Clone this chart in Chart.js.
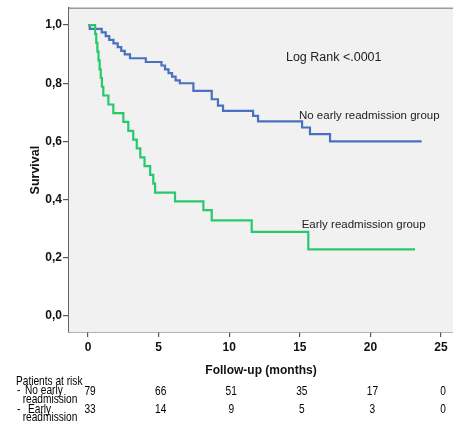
<!DOCTYPE html>
<html>
<head>
<meta charset="utf-8">
<script src="https://cdn.jsdelivr.net/npm/chart.js@4.4.1/dist/chart.umd.min.js"></script>
<style>
  html, body { margin: 0; padding: 0; background: #ffffff; }
  #wrap { position: relative; width: 453px; height: 422px; }
  canvas { display: block; }
</style>
</head>
<body>
<div id="wrap"><canvas id="c" width="453" height="422"></canvas></div>
<script>
// ---- data ----
const noEarlyTimes = [0, 0.12, 0.97, 1.25, 1.5, 1.8, 2.1, 2.35, 2.6, 2.97, 4.09, 5.2, 5.45, 5.7, 5.95, 6.2, 6.5, 7.46, 8.76, 9.2, 9.56, 11.69, 12.04, 15.16, 15.72, 17.14, 23.63];
const noEarlySurv  = [1.0, 0.987, 0.975, 0.962, 0.949, 0.937, 0.924, 0.911, 0.899, 0.886, 0.873, 0.861, 0.848, 0.835, 0.823, 0.81, 0.80, 0.774, 0.745, 0.723, 0.705, 0.688, 0.669, 0.648, 0.625, 0.60, 0.60];
const earlyTimes = [0, 0.5, 0.58, 0.66, 0.74, 0.82, 0.9, 0.98, 1.08, 1.44, 1.79, 2.5, 2.85, 3.2, 3.45, 3.7, 4.0, 4.4, 4.62, 4.75, 6.16, 8.17, 8.76, 11.59, 15.6, 23.16];
const earlySurv  = [1.0, 0.970, 0.939, 0.909, 0.879, 0.848, 0.818, 0.788, 0.758, 0.727, 0.697, 0.667, 0.636, 0.606, 0.576, 0.545, 0.515, 0.485, 0.455, 0.424, 0.394, 0.364, 0.329, 0.289, 0.229, 0.229];
const xTicks = [0, 5, 10, 15, 20, 25];
const yTicks = [0, 0.2, 0.4, 0.6, 0.8, 1.0];
const atRiskNoEarly = [79, 66, 51, 35, 17, 0];
const atRiskEarly   = [33, 14, 9, 5, 3, 0];
const seriesNames = ['No early readmission group', 'Early readmission group'];
const logRankText = 'Log Rank <.0001';

// ---- styling ----
const BLUE = '#4a70bf';
const GREEN = '#27c96d';
const FONT = "'Liberation Sans', Arial, sans-serif";
const NARROW_SCALE = 0.78;

const toPts = (ts, ss) => ts.map((t, i) => ({ x: t, y: ss[i] }));

function narrowText(ctx, text, x, y, align) {
  ctx.save();
  ctx.translate(x, y);
  ctx.scale(NARROW_SCALE, 1);
  ctx.textAlign = align || 'left';
  ctx.fillText(text, 0, 0);
  ctx.restore();
}

const decor = {
  id: 'decor',
  beforeDatasetsDraw(chart) {
    const { ctx, chartArea: a } = chart;
    ctx.save();
    ctx.fillStyle = '#f1f1f1';
    ctx.fillRect(a.left, a.top, a.right - a.left, a.bottom - a.top);
    ctx.strokeStyle = '#9a9a9a';
    ctx.lineWidth = 1.5;
    ctx.beginPath();
    ctx.moveTo(a.left, a.top);
    ctx.lineTo(a.right, a.top);
    ctx.stroke();
    ctx.restore();
  },
  afterDraw(chart) {
    const { ctx } = chart;
    const xs = chart.scales.x, ys = chart.scales.y;
    ctx.save();
    ctx.fillStyle = '#222';
    ctx.textBaseline = 'middle';
    // annotations
    ctx.font = '12.5px ' + FONT;
    ctx.textAlign = 'center';
    ctx.fillText(logRankText, xs.getPixelForValue(17.4), ys.getPixelForValue(0.887));
    ctx.font = '11.5px ' + FONT;
    ctx.textAlign = 'left';
    ctx.fillText(seriesNames[0], xs.getPixelForValue(14.94), ys.getPixelForValue(0.688));
    ctx.fillText(seriesNames[1], xs.getPixelForValue(15.13), ys.getPixelForValue(0.312));
    // at-risk table
    ctx.fillStyle = '#000';
    ctx.font = '13px ' + FONT;
    narrowText(ctx, 'Patients at risk', 16, 381);
    narrowText(ctx, '-', 17, 390.5);
    narrowText(ctx, 'No early', 25, 390.5);
    narrowText(ctx, 'readmission', 22.7, 399.5);
    narrowText(ctx, '-', 17, 409);
    narrowText(ctx, 'Early', 28, 409);
    narrowText(ctx, 'readmission', 22.7, 417.5);
    xTicks.forEach((t, i) => {
      const px = xs.getPixelForValue(t) + 2;
      narrowText(ctx, String(atRiskNoEarly[i]), px, 391, 'center');
      narrowText(ctx, String(atRiskEarly[i]), px, 409.5, 'center');
    });
    ctx.restore();
  }
};

new Chart(document.getElementById('c'), {
  type: 'line',
  data: {
    datasets: [
      { label: seriesNames[1], data: toPts(earlyTimes, earlySurv), borderColor: GREEN, borderWidth: 2.2, stepped: true, pointRadius: 0, fill: false, order: 0 },
      { label: seriesNames[0], data: toPts(noEarlyTimes, noEarlySurv), borderColor: BLUE, borderWidth: 2.2, stepped: true, pointRadius: 0, fill: false, order: 1 }
    ]
  },
  options: {
    responsive: false,
    animation: false,
    devicePixelRatio: 1,
    layout: { padding: { top: 7, right: 0, left: 0, bottom: 0 } },
    plugins: { legend: { display: false }, tooltip: { enabled: false } },
    scales: {
      x: {
        type: 'linear',
        min: -1.35,
        max: 25.85,
        afterBuildTicks: s => { s.ticks = xTicks.map(v => ({ value: v })); },
        afterFit: s => { s.height = 90; },
        grid: { drawOnChartArea: false, drawTicks: true, tickLength: 5, color: '#555', lineWidth: 1.2 },
        border: { display: true, color: '#666', width: 1.5 },
        ticks: { padding: 3, color: '#111', font: { family: FONT, size: 12, weight: 'bold' }, maxRotation: 0 },
        title: { display: true, text: 'Follow-up (months)', color: '#111', font: { family: FONT, size: 12, weight: 'bold' }, padding: { top: 0, bottom: 44 } }
      },
      y: {
        type: 'linear',
        min: -0.055,
        max: 1.058,
        afterBuildTicks: s => { s.ticks = yTicks.map(v => ({ value: v })); },
        afterFit: s => { s.width = 69; },
        grid: { drawOnChartArea: false, drawTicks: true, tickLength: 6, color: '#555', lineWidth: 1.2 },
        border: { display: true, color: '#666', width: 1.5 },
        ticks: { padding: 1, color: '#111', font: { family: FONT, size: 12, weight: 'bold' }, callback: v => v.toFixed(1).replace('.', ',') },
        title: { display: true, text: 'Survival', color: '#111', font: { family: FONT, size: 12.5, weight: 'bold' }, padding: { top: 28, bottom: 0 } }
      }
    }
  },
  plugins: [decor]
});
</script>
</body>
</html>
